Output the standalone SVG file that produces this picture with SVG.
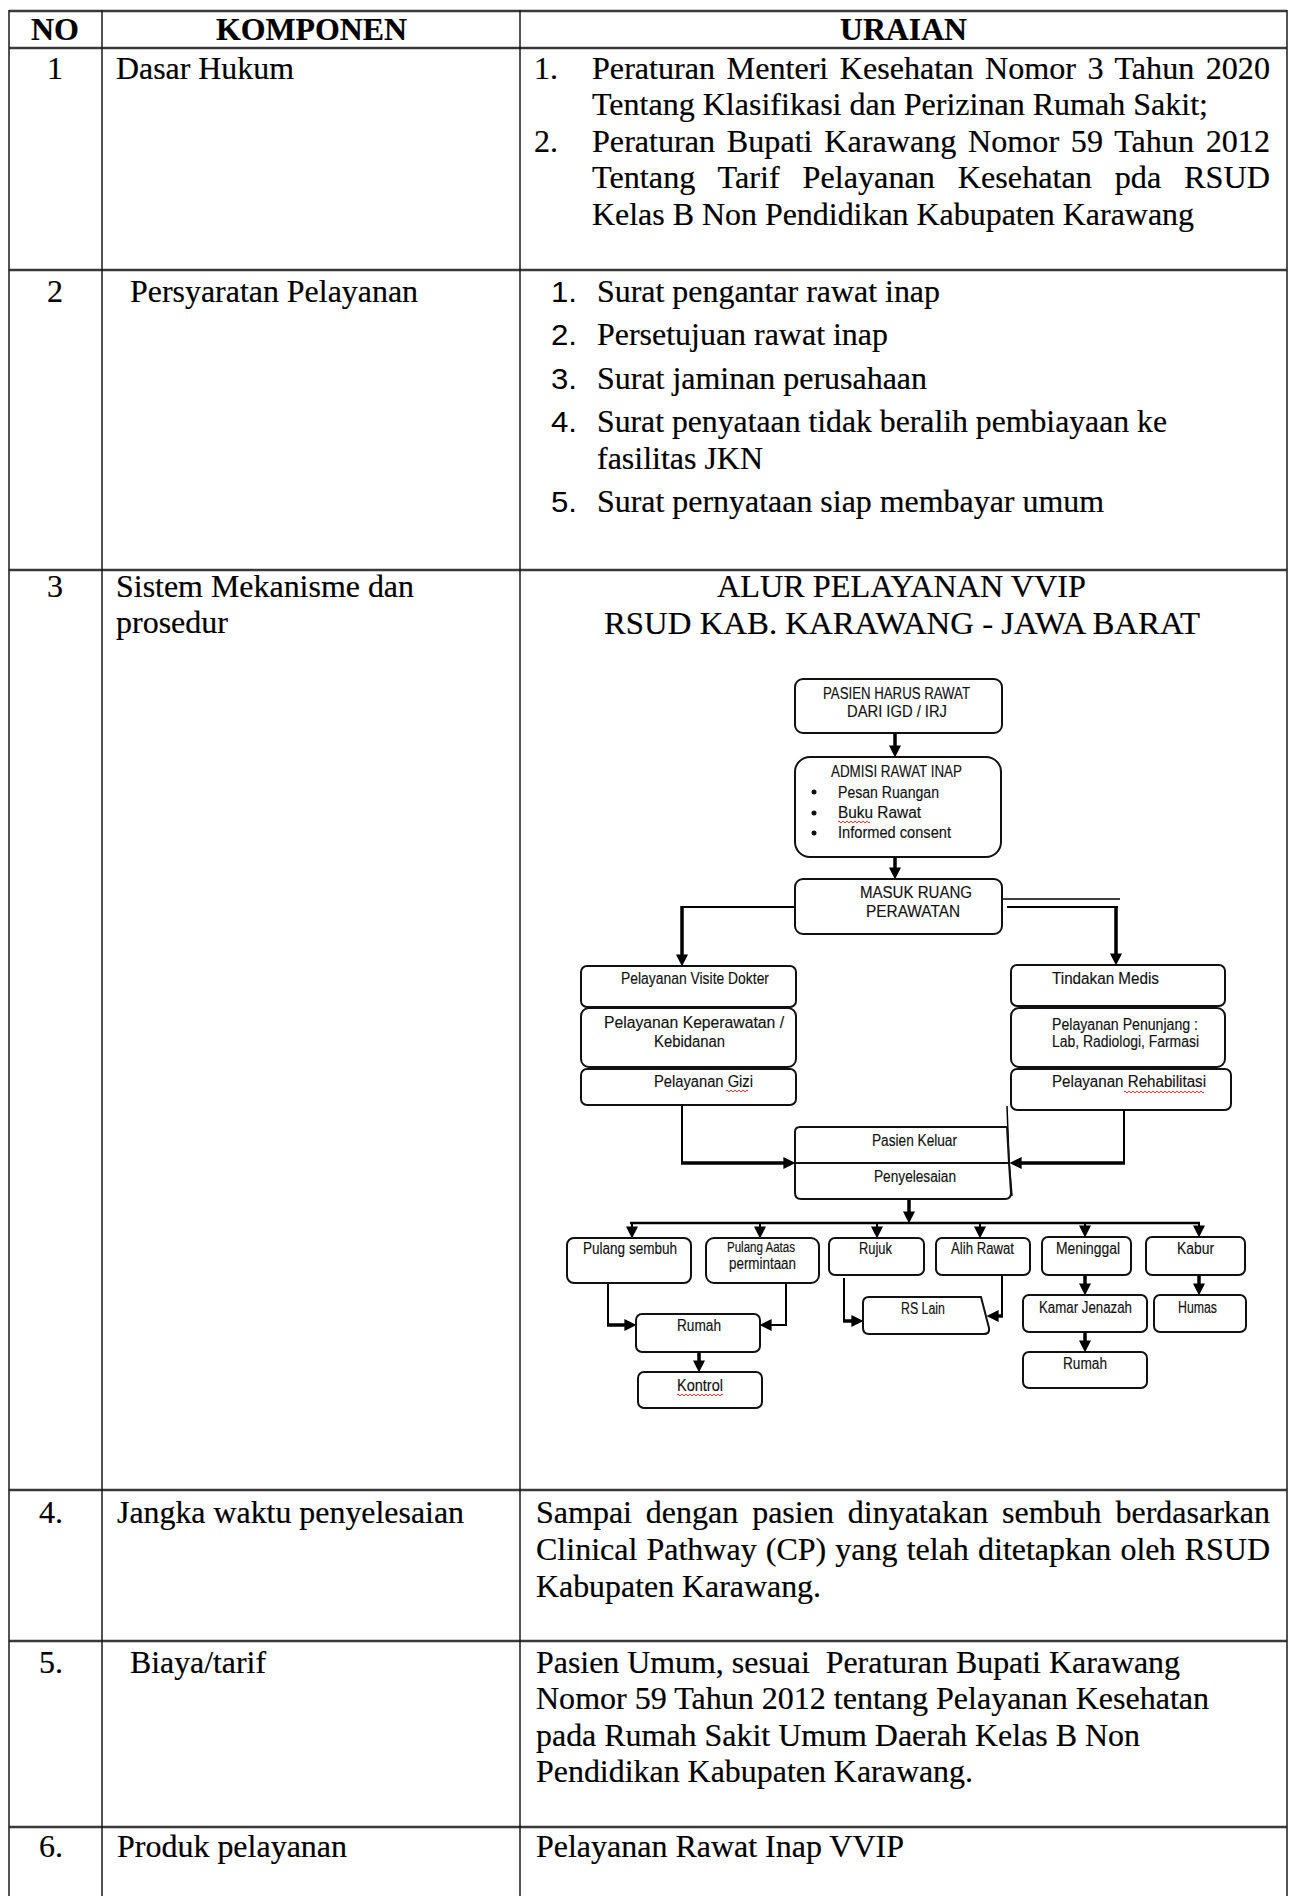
<svg xmlns="http://www.w3.org/2000/svg" width="1290" height="1896" viewBox="0 0 1290 1896">
<style>
.s{font-family:"Liberation Serif","Times New Roman",serif;font-size:32px;fill:#000;stroke:#000;stroke-width:0.2px}
.b{font-weight:bold}
.n{font-family:"Liberation Sans",Arial,sans-serif;font-size:30px;fill:#000}
.f{font-family:"Liberation Sans",Arial,sans-serif;font-size:16px;fill:#111;stroke:#111;stroke-width:0.15px}
.fs{font-size:14px}
.bx{fill:#fff;stroke:#111;stroke-width:2}
.c{fill:none;stroke:#000;stroke-width:2}
.ct{stroke-width:3.5}
.hl{stroke:#3a3a3a;stroke-width:2.5}
.vl{stroke:#1a1a1a;stroke-width:1.5}
.sq{fill:none;stroke:#e02828;stroke-width:1}
</style>
<defs>
<marker id="ah" viewBox="0 0 10 10" refX="5.5" refY="5" markerWidth="12" markerHeight="12" markerUnits="userSpaceOnUse" orient="auto"><path d="M0,0 L10,5 L0,10 z" fill="#000"/></marker>
</defs>
<rect width="1290" height="1896" fill="#fff"/>

<g id="table-grid">
<line class="hl" x1="9" y1="11" x2="1287" y2="11"/>
<line class="hl" x1="9" y1="48" x2="1287" y2="48"/>
<line class="hl" x1="9" y1="270" x2="1287" y2="270"/>
<line class="hl" x1="9" y1="570" x2="1287" y2="570"/>
<line class="hl" x1="9" y1="1490" x2="1287" y2="1490"/>
<line class="hl" x1="9" y1="1641" x2="1287" y2="1641"/>
<line class="hl" x1="9" y1="1827" x2="1287" y2="1827"/>
<line class="vl" x1="9" y1="10" x2="9" y2="1896"/>
<line class="vl" x1="102" y1="10" x2="102" y2="1896"/>
<line class="vl" x1="520" y1="10" x2="520" y2="1896"/>
<line class="vl" x1="1287" y1="10" x2="1287" y2="1896"/>
</g>

<g id="table-header">
<text class="s b" x="31" y="40" textLength="48" lengthAdjust="spacingAndGlyphs">NO</text>
<text class="s b" x="216" y="40" textLength="191" lengthAdjust="spacingAndGlyphs">KOMPONEN</text>
<text class="s b" x="840" y="40" textLength="127" lengthAdjust="spacingAndGlyphs">URAIAN</text>
</g>

<g id="row-1">
<text class="s" x="47" y="79" textLength="16" lengthAdjust="spacingAndGlyphs">1</text>
<text class="s" x="116" y="79" textLength="178" lengthAdjust="spacingAndGlyphs">Dasar Hukum</text>
<text class="s" x="534" y="79" textLength="24" lengthAdjust="spacingAndGlyphs">1.</text>
<text class="s" x="592" y="79" textLength="678" lengthAdjust="spacingAndGlyphs" word-spacing="3.4">Peraturan Menteri Kesehatan Nomor 3 Tahun 2020</text>
<text class="s" x="592" y="115" textLength="616" lengthAdjust="spacingAndGlyphs">Tentang Klasifikasi dan Perizinan Rumah Sakit;</text>
<text class="s" x="534" y="152" textLength="24" lengthAdjust="spacingAndGlyphs">2.</text>
<text class="s" x="592" y="152" textLength="678" lengthAdjust="spacingAndGlyphs" word-spacing="3.7">Peraturan Bupati Karawang Nomor 59 Tahun 2012</text>
<text class="s" x="592" y="188" textLength="678" lengthAdjust="spacingAndGlyphs" word-spacing="14.6">Tentang Tarif Pelayanan Kesehatan pda RSUD</text>
<text class="s" x="592" y="225" textLength="602" lengthAdjust="spacingAndGlyphs">Kelas B Non Pendidikan Kabupaten Karawang</text>
</g>

<g id="row-2">
<text class="s" x="47" y="302" textLength="16" lengthAdjust="spacingAndGlyphs">2</text>
<text class="s" x="130" y="302" textLength="288" lengthAdjust="spacingAndGlyphs">Persyaratan Pelayanan</text>
<text class="n" x="551" y="302" textLength="26" lengthAdjust="spacingAndGlyphs">1.</text>
<text class="s" x="597" y="302" textLength="343" lengthAdjust="spacingAndGlyphs">Surat pengantar rawat inap</text>
<text class="n" x="551" y="345" textLength="26" lengthAdjust="spacingAndGlyphs">2.</text>
<text class="s" x="597" y="345" textLength="291" lengthAdjust="spacingAndGlyphs">Persetujuan rawat inap</text>
<text class="n" x="551" y="389" textLength="26" lengthAdjust="spacingAndGlyphs">3.</text>
<text class="s" x="597" y="389" textLength="330" lengthAdjust="spacingAndGlyphs">Surat jaminan perusahaan</text>
<text class="n" x="551" y="432" textLength="26" lengthAdjust="spacingAndGlyphs">4.</text>
<text class="s" x="597" y="432" textLength="570" lengthAdjust="spacingAndGlyphs">Surat penyataan tidak beralih pembiayaan ke</text>
<text class="s" x="597" y="469" textLength="166" lengthAdjust="spacingAndGlyphs">fasilitas JKN</text>
<text class="n" x="551" y="512" textLength="26" lengthAdjust="spacingAndGlyphs">5.</text>
<text class="s" x="597" y="512" textLength="507" lengthAdjust="spacingAndGlyphs">Surat pernyataan siap membayar umum</text>
</g>

<g id="row-3">
<text class="s" x="47" y="597" textLength="16" lengthAdjust="spacingAndGlyphs">3</text>
<text class="s" x="116" y="597" textLength="298" lengthAdjust="spacingAndGlyphs">Sistem Mekanisme dan</text>
<text class="s" x="116" y="633" textLength="112" lengthAdjust="spacingAndGlyphs">prosedur</text>
<text class="s" x="717" y="597" textLength="369" lengthAdjust="spacingAndGlyphs">ALUR PELAYANAN VVIP</text>
<text class="s" x="604" y="634" textLength="596" lengthAdjust="spacingAndGlyphs">RSUD KAB. KARAWANG - JAWA BARAT</text>
</g>

<g id="row-4">
<text class="s" x="39" y="1523" textLength="24" lengthAdjust="spacingAndGlyphs">4.</text>
<text class="s" x="117" y="1523" textLength="347" lengthAdjust="spacingAndGlyphs">Jangka waktu penyelesaian</text>
<text class="s" x="536" y="1523" textLength="734" lengthAdjust="spacingAndGlyphs" word-spacing="5.9">Sampai dengan pasien dinyatakan sembuh berdasarkan</text>
<text class="s" x="536" y="1560" textLength="734" lengthAdjust="spacingAndGlyphs" word-spacing="1.1">Clinical Pathway (CP) yang telah ditetapkan oleh RSUD</text>
<text class="s" x="536" y="1597" textLength="285" lengthAdjust="spacingAndGlyphs">Kabupaten Karawang.</text>
</g>

<g id="row-5">
<text class="s" x="39" y="1673" textLength="24" lengthAdjust="spacingAndGlyphs">5.</text>
<text class="s" x="130" y="1673" textLength="136" lengthAdjust="spacingAndGlyphs">Biaya/tarif</text>
<text class="s" x="536" y="1673" textLength="644" lengthAdjust="spacingAndGlyphs" xml:space="preserve">Pasien Umum, sesuai  Peraturan Bupati Karawang</text>
<text class="s" x="536" y="1709" textLength="673" lengthAdjust="spacingAndGlyphs">Nomor 59 Tahun 2012 tentang Pelayanan Kesehatan</text>
<text class="s" x="536" y="1746" textLength="604" lengthAdjust="spacingAndGlyphs">pada Rumah Sakit Umum Daerah Kelas B Non</text>
<text class="s" x="536" y="1782" textLength="437" lengthAdjust="spacingAndGlyphs">Pendidikan Kabupaten Karawang.</text>
</g>

<g id="row-6">
<text class="s" x="39" y="1857" textLength="24" lengthAdjust="spacingAndGlyphs">6.</text>
<text class="s" x="117" y="1857" textLength="230" lengthAdjust="spacingAndGlyphs">Produk pelayanan</text>
<text class="s" x="536" y="1857" textLength="368" lengthAdjust="spacingAndGlyphs">Pelayanan Rawat Inap VVIP</text>
</g>

<g id="connectors">
<path class="c ct" d="M895,733 V752" marker-end="url(#ah)"/>
<path class="c ct" d="M895,857 V874" marker-end="url(#ah)"/>
<path class="c" d="M795,907 H682"/>
<path class="c ct" d="M682,906 V961" marker-end="url(#ah)"/>
<path class="c" style="stroke-width:1.5" d="M1002,899 H1120"/>
<path class="c" d="M1007,907 H1118"/>
<path class="c ct" d="M1116,906 V960" marker-end="url(#ah)"/>
<path class="c" d="M682,1105 V1163"/>
<path class="c ct" d="M681,1163 H790" marker-end="url(#ah)"/>
<path class="c" d="M1124,1110 V1163"/>
<path class="c ct" d="M1125,1163 H1015" marker-end="url(#ah)"/>
<path class="c" style="stroke-width:1.5" d="M1007,1106 L1009,1160 L1012,1196"/>
<path class="c ct" d="M909,1199 V1218" marker-end="url(#ah)"/>
<path class="c" style="stroke-width:2.5" d="M630,1223 H1200"/>
<path class="c" d="M632,1223 V1233" marker-end="url(#ah)"/>
<path class="c" d="M760,1223 V1233" marker-end="url(#ah)"/>
<path class="c" d="M877,1223 V1233" marker-end="url(#ah)"/>
<path class="c" d="M980,1223 V1233" marker-end="url(#ah)"/>
<path class="c" d="M1085,1223 V1232" marker-end="url(#ah)"/>
<path class="c" d="M1199,1223 V1232" marker-end="url(#ah)"/>
<path class="c" d="M608,1283 V1325"/>
<path class="c ct" d="M607,1325 H631" marker-end="url(#ah)"/>
<path class="c" d="M786,1283 V1325 H765" marker-end="url(#ah)"/>
<path class="c ct" d="M699,1352 V1367" marker-end="url(#ah)"/>
<path class="c" d="M844,1278 V1321"/>
<path class="c ct" d="M843,1321 H858" marker-end="url(#ah)"/>
<path class="c" d="M1002,1275 V1316"/>
<path class="c ct" d="M1003,1316 H992" marker-end="url(#ah)"/>
<path class="c ct" d="M1085,1275 V1290" marker-end="url(#ah)"/>
<path class="c ct" d="M1085,1332 V1347" marker-end="url(#ah)"/>
<path class="c ct" d="M1199,1275 V1290" marker-end="url(#ah)"/>
</g>

<g id="n-pasien-harus-rawat">
<rect class="bx" x="795" y="679" width="207" height="54" rx="8"/>
<text class="f" x="823" y="699" textLength="147" lengthAdjust="spacingAndGlyphs">PASIEN HARUS RAWAT</text>
<text class="f" x="847" y="717" textLength="100" lengthAdjust="spacingAndGlyphs">DARI IGD / IRJ</text>
</g>
<g id="n-admisi">
<rect class="bx" x="795" y="757" width="206" height="100" rx="15"/>
<text class="f" x="831" y="777" textLength="131" lengthAdjust="spacingAndGlyphs">ADMISI RAWAT INAP</text>
<circle cx="814" cy="792" r="2.5" fill="#111"/>
<circle cx="814" cy="813" r="2.5" fill="#111"/>
<circle cx="814" cy="833" r="2.5" fill="#111"/>
<text class="f" x="838" y="798" textLength="101" lengthAdjust="spacingAndGlyphs">Pesan Ruangan</text>
<text class="f" x="838" y="818" textLength="83" lengthAdjust="spacingAndGlyphs">Buku Rawat</text>
<path class="sq" d="M838,822 q1,-1.6 2,0 t2,0 t2,0 t2,0 t2,0 t2,0 t2,0 t2,0 t2,0 t2,0 t2,0 t2,0 t2,0 t2,0 t2,0 t2,0"/>
<text class="f" x="838" y="838" textLength="113" lengthAdjust="spacingAndGlyphs">Informed consent</text>
</g>
<g id="n-masuk-ruang">
<rect class="bx" x="795" y="879" width="207" height="55" rx="8"/>
<text class="f" x="860" y="898" textLength="112" lengthAdjust="spacingAndGlyphs">MASUK RUANG</text>
<text class="f" x="866" y="917" textLength="94" lengthAdjust="spacingAndGlyphs">PERAWATAN</text>
</g>
<g id="n-visite">
<rect class="bx" x="581" y="966" width="215" height="41" rx="6"/>
<text class="f" x="621" y="984" textLength="148" lengthAdjust="spacingAndGlyphs">Pelayanan Visite Dokter</text>
</g>
<g id="n-keperawatan">
<rect class="bx" x="581" y="1008" width="215" height="59" rx="8"/>
<text class="f" x="604" y="1028" textLength="180" lengthAdjust="spacingAndGlyphs">Pelayanan Keperawatan /</text>
<text class="f" x="654" y="1047" textLength="71" lengthAdjust="spacingAndGlyphs">Kebidanan</text>
</g>
<g id="n-gizi">
<rect class="bx" x="581" y="1069" width="215" height="36" rx="6"/>
<text class="f" x="654" y="1087" textLength="99" lengthAdjust="spacingAndGlyphs">Pelayanan Gizi</text>
<path class="sq" d="M726,1091 q1,-1.6 2,0 t2,0 t2,0 t2,0 t2,0 t2,0 t2,0 t2,0 t2,0 t2,0 t2,0"/>
</g>
<g id="n-tindakan">
<rect class="bx" x="1011" y="965" width="214" height="41" rx="6"/>
<text class="f" x="1052" y="984" textLength="107" lengthAdjust="spacingAndGlyphs">Tindakan Medis</text>
</g>
<g id="n-penunjang">
<rect class="bx" x="1011" y="1008" width="214" height="59" rx="8"/>
<text class="f" x="1052" y="1030" textLength="146" lengthAdjust="spacingAndGlyphs">Pelayanan Penunjang :</text>
<text class="f" x="1052" y="1047" textLength="147" lengthAdjust="spacingAndGlyphs">Lab, Radiologi, Farmasi</text>
</g>
<g id="n-rehabilitasi">
<rect class="bx" x="1011" y="1069" width="220" height="41" rx="6"/>
<text class="f" x="1052" y="1087" textLength="154" lengthAdjust="spacingAndGlyphs">Pelayanan Rehabilitasi</text>
<path class="sq" d="M1124,1092 q1,-1.6 2,0 t2,0 t2,0 t2,0 t2,0 t2,0 t2,0 t2,0 t2,0 t2,0 t2,0 t2,0 t2,0 t2,0 t2,0 t2,0 t2,0 t2,0 t2,0 t2,0 t2,0 t2,0 t2,0 t2,0 t2,0 t2,0 t2,0 t2,0 t2,0 t2,0 t2,0 t2,0 t2,0 t2,0 t2,0 t2,0 t2,0 t2,0 t2,0 t2,0"/>
</g>
<g id="n-pasien-keluar">
<path class="bx" d="M795,1163 V1132 Q795,1127 800,1127 H1007 L1009,1163"/>
<text class="f" x="872" y="1146" textLength="85" lengthAdjust="spacingAndGlyphs">Pasien Keluar</text>
</g>
<g id="n-penyelesaian">
<path class="bx" d="M795,1163 H1009 L1011,1193 Q1011,1199 1005,1199 H801 Q795,1199 795,1193 Z"/>
<text class="f" x="874" y="1182" textLength="82" lengthAdjust="spacingAndGlyphs">Penyelesaian</text>
</g>
<g id="n-pulang-sembuh">
<rect class="bx" x="567" y="1238" width="124" height="45" rx="7"/>
<text class="f" x="583" y="1254" textLength="94" lengthAdjust="spacingAndGlyphs">Pulang sembuh</text>
</g>
<g id="n-pulang-atas">
<rect class="bx" x="706" y="1238" width="113" height="45" rx="8"/>
<text class="f fs" x="727" y="1252" textLength="68" lengthAdjust="spacingAndGlyphs">Pulang Aatas</text>
<text class="f" x="729" y="1269" textLength="67" lengthAdjust="spacingAndGlyphs">permintaan</text>
</g>
<g id="n-rujuk">
<rect class="bx" x="829" y="1238" width="95" height="37" rx="6"/>
<text class="f" x="859" y="1254" textLength="33" lengthAdjust="spacingAndGlyphs">Rujuk</text>
</g>
<g id="n-alih-rawat">
<rect class="bx" x="936" y="1238" width="94" height="37" rx="6"/>
<text class="f" x="951" y="1254" textLength="63" lengthAdjust="spacingAndGlyphs">Alih Rawat</text>
</g>
<g id="n-meninggal">
<rect class="bx" x="1042" y="1237" width="89" height="38" rx="6"/>
<text class="f" x="1056" y="1254" textLength="64" lengthAdjust="spacingAndGlyphs">Meninggal</text>
</g>
<g id="n-kabur">
<rect class="bx" x="1146" y="1237" width="99" height="38" rx="6"/>
<text class="f" x="1177" y="1254" textLength="37" lengthAdjust="spacingAndGlyphs">Kabur</text>
</g>
<g id="n-rumah-1">
<rect class="bx" x="636" y="1314" width="124" height="38" rx="6"/>
<text class="f" x="677" y="1331" textLength="44" lengthAdjust="spacingAndGlyphs">Rumah</text>
</g>
<g id="n-kontrol">
<rect class="bx" x="638" y="1372" width="124" height="36" rx="6"/>
<text class="f" x="677" y="1391" textLength="46" lengthAdjust="spacingAndGlyphs">Kontrol</text>
<path class="sq" d="M677,1395 q1,-1.6 2,0 t2,0 t2,0 t2,0 t2,0 t2,0 t2,0 t2,0 t2,0 t2,0 t2,0 t2,0 t2,0 t2,0 t2,0 t2,0 t2,0 t2,0 t2,0 t2,0 t2,0 t2,0 t2,0"/>
</g>
<g id="n-rs-lain">
<path class="bx" d="M869,1297 H981 L989,1328 Q990,1334 984,1334 H869 Q863,1334 863,1328 V1303 Q863,1297 869,1297 Z"/>
<text class="f" x="901" y="1314" textLength="44" lengthAdjust="spacingAndGlyphs">RS Lain</text>
</g>
<g id="n-kamar-jenazah">
<rect class="bx" x="1023" y="1295" width="124" height="37" rx="6"/>
<text class="f" x="1039" y="1313" textLength="93" lengthAdjust="spacingAndGlyphs">Kamar Jenazah</text>
</g>
<g id="n-humas">
<rect class="bx" x="1154" y="1295" width="92" height="37" rx="6"/>
<text class="f" x="1178" y="1313" textLength="39" lengthAdjust="spacingAndGlyphs">Humas</text>
</g>
<g id="n-rumah-2">
<rect class="bx" x="1023" y="1352" width="124" height="36" rx="6"/>
<text class="f" x="1063" y="1369" textLength="44" lengthAdjust="spacingAndGlyphs">Rumah</text>
</g>
</svg>
